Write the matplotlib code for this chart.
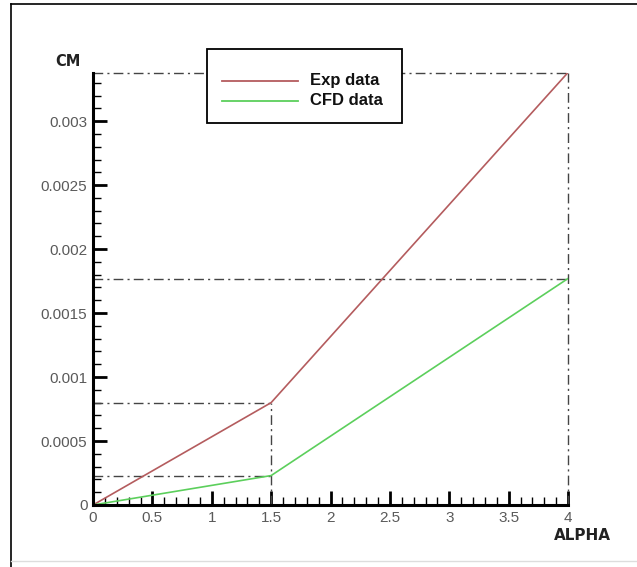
import matplotlib
matplotlib.use("Agg")
import matplotlib.pyplot as plt
from matplotlib.lines import Line2D
from matplotlib.patches import Rectangle
from matplotlib.ticker import MultipleLocator, FuncFormatter

# Pitching moment coefficient vs angle of attack
alpha = [0.0, 1.5, 4.0]
cm_exp = [0.0, 0.00080, 0.00338]
cm_cfd = [0.0, 0.00023, 0.00177]
series_labels = ["Exp data", "CFD data"]

exp_color = "#b45c5e"
cfd_color = "#5ccf5c"
ref_color = "#444444"
label_color = "#5a5a5a"
dashdot = (0, (7, 3, 1.5, 3))

W, H = 637, 567
fig = plt.figure(figsize=(W / 100, H / 100), dpi=100)


def fx(px):
    return px / W


def fy(py):
    return 1 - py / H


# page frame
fig.add_artist(Line2D([fx(11), fx(11)], [0, fy(4)], color="black", lw=1.2,
                      transform=fig.transFigure))
fig.add_artist(Line2D([fx(11), 1], [fy(4), fy(4)], color="black", lw=1.2,
                      transform=fig.transFigure))
fig.add_artist(Line2D([fx(11), 1], [fy(561), fy(561)], color="#dddddd", lw=1,
                      transform=fig.transFigure))

x0, x1 = 93, 568
y0, y1 = 505, 72.5
ax = fig.add_axes([fx(x0), fy(y0), (x1 - x0) / W, (y0 - y1) / H])

xmax = alpha[-1]
ymax = cm_exp[-1]
ax.set_xlim(0, xmax)
ax.set_ylim(0, ymax)

# reference lines (dash-dot)
ax.plot([0, xmax], [ymax, ymax], color=ref_color, lw=1, ls=dashdot, clip_on=False)
ax.plot([xmax, xmax], [0, ymax], color=ref_color, lw=1, ls=dashdot, clip_on=False)
ax.plot([0, xmax], [cm_cfd[2], cm_cfd[2]], color=ref_color, lw=1, ls=dashdot)
ax.plot([0, alpha[1]], [cm_exp[1], cm_exp[1]], color=ref_color, lw=1, ls=dashdot)
ax.plot([0, alpha[1]], [cm_cfd[1], cm_cfd[1]], color=ref_color, lw=1, ls=dashdot)
ax.plot([alpha[1], alpha[1]], [0, cm_exp[1]], color=ref_color, lw=1, ls=dashdot)

ax.plot(alpha, cm_exp, color=exp_color, lw=1.2)
ax.plot(alpha, cm_cfd, color=cfd_color, lw=1.2)

for s in ("top", "right"):
    ax.spines[s].set_visible(False)
for s in ("left", "bottom"):
    ax.spines[s].set_linewidth(2.2)

ax.xaxis.set_major_locator(MultipleLocator(0.5))
ax.xaxis.set_minor_locator(MultipleLocator(0.1))
ax.yaxis.set_major_locator(MultipleLocator(0.0005))
ax.yaxis.set_minor_locator(MultipleLocator(0.0001))


def fmt(v, pos):
    return ("%.4f" % v).rstrip("0").rstrip(".")


ax.xaxis.set_major_formatter(FuncFormatter(fmt))
ax.yaxis.set_major_formatter(FuncFormatter(fmt))

ax.tick_params(which="major", direction="in", length=10, width=2, labelsize=11,
               labelcolor=label_color, pad=4)
ax.tick_params(which="minor", direction="in", length=6, width=1)
ax.tick_params(axis="x", which="both", top=False)
ax.tick_params(axis="y", which="both", right=False)
for lab in ax.get_xticklabels() + ax.get_yticklabels():
    lab.set_family("Liberation Sans")

fig.text(fx(68), fy(62), "CM", fontsize=10.5, fontweight="bold", color="#222222",
         family="DejaVu Sans", ha="center", va="center")
fig.text(fx(582), fy(536), "ALPHA", fontsize=11, fontweight="bold", color="#222222",
         family="DejaVu Sans", ha="center", va="center")

# legend box
fig.add_artist(Rectangle((fx(207), fy(123)), (402 - 207) / W, (123 - 49) / H,
                         transform=fig.transFigure, facecolor="white",
                         edgecolor="black", lw=1.3, zorder=5))
for row, (lab, col) in enumerate(zip(series_labels, [exp_color, cfd_color])):
    yy = fy(81 + 20 * row)
    fig.add_artist(Line2D([fx(222), fx(298)], [yy, yy], color=col, lw=1.3,
                          transform=fig.transFigure, zorder=6))
    fig.text(fx(310), yy, lab, fontsize=12, fontweight="bold", color="#111111",
             family="Liberation Sans", ha="left", va="center", zorder=6)

fig.savefig("out.png", dpi=100)
